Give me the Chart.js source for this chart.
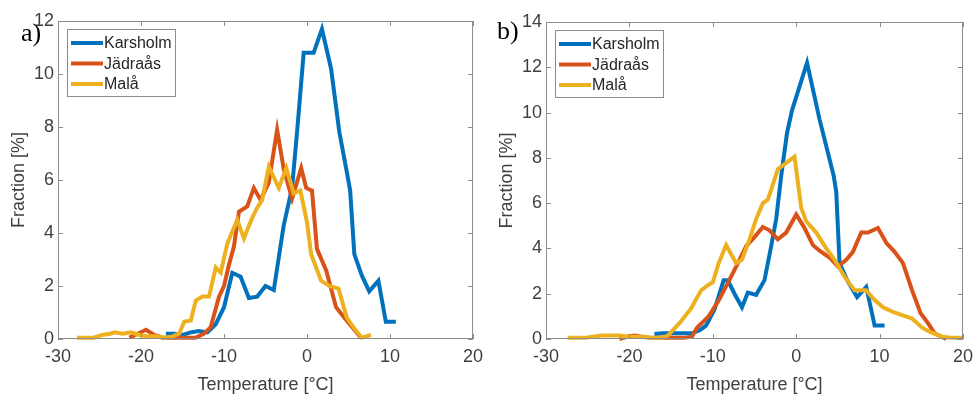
<!DOCTYPE html>
<html>
<head>
<meta charset="utf-8">
<script src="https://cdn.jsdelivr.net/npm/chart.js@4.4.1/dist/chart.umd.min.js"></script>
<style>
  body { margin: 0; background: #fff; }
  #wrap { position: relative; width: 973px; height: 394px; }
  #wrap canvas { position: absolute; top: 0; }
</style>
</head>
<body>
<div id="wrap">
  <canvas id="panelA" width="486" height="394" style="left:0"></canvas>
  <canvas id="panelB" width="487" height="394" style="left:486px"></canvas>
</div>
<script>
// station names
const stations = ["Karsholm", "Jädraås", "Malå"];
const colors = ["#0072BD", "#D95319", "#EDB120"];

// tick labels
const xTicks = [-30, -20, -10, 0, 10, 20];
const yTicksA = [0, 2, 4, 6, 8, 10, 12];
const yTicksB = [0, 2, 4, 6, 8, 10, 12, 14];

// panel a) - temperature [C] and fraction [%]
const karsholmA_T = [-17, -16, -15, -14, -13, -12, -11, -10, -9, -8, -7, -6, -5, -4, -2.8, -1.8, -1.2, -0.4, 0.8, 1.8, 2.9, 3.9, 4.8, 5.2, 5.7, 6.6, 7.5, 8.6, 9.5, 10.7];
const karsholmA_F = [0.2, 0.2, 0.15, 0.25, 0.3, 0.25, 0.55, 1.2, 2.5, 2.35, 1.55, 1.6, 2.0, 1.85, 4.3, 5.7, 7.8, 10.8, 10.8, 11.7, 10.2, 7.8, 6.3, 5.6, 3.2, 2.4, 1.8, 2.2, 0.65, 0.65];

const jadraasA_T = [-21.4, -20.4, -19.4, -18.4, -17.4, -16.4, -15.4, -14.4, -13.4, -12.4, -11.6, -10.6, -10, -9.4, -8.8, -8.2, -7.2, -6.4, -5.6, -4.6, -3.6, -2.8, -1.8, -0.7, -0.1, 0.6, 1.2, 2.3, 3.5, 4.5, 5.7, 6.5];
const jadraasA_F = [0.05, 0.2, 0.35, 0.15, 0.05, 0.05, 0.05, 0.05, 0.05, 0.2, 0.45, 1.6, 2.0, 2.8, 3.5, 4.8, 5.0, 5.7, 5.25, 5.9, 7.9, 6.4, 5.3, 6.45, 5.7, 5.6, 3.4, 2.6, 1.2, 0.8, 0.35, 0.05];

const malaA_T = [-27.7, -26.7, -25.7, -24.7, -23.7, -23.2, -22.2, -21.2, -20.2, -19.2, -18.2, -17.2, -16.2, -15.4, -14.8, -14.0, -13.4, -12.6, -11.8, -11.0, -10.4, -9.6, -8.4, -7.6, -6.7, -6.1, -5.4, -4.6, -3.4, -2.5, -1.6, -0.8, 0, 0.5, 1.7, 2.7, 3.8, 4.8, 5.7, 6.6, 7.7];
const malaA_F = [0.05, 0.05, 0.05, 0.15, 0.2, 0.25, 0.2, 0.25, 0.15, 0.1, 0.1, 0.05, 0.1, 0.2, 0.65, 0.7, 1.45, 1.6, 1.6, 2.7, 2.5, 3.6, 4.5, 3.8, 4.5, 4.9, 5.25, 6.5, 5.7, 6.45, 5.5, 5.6, 4.4, 3.2, 2.2, 2.0, 1.9, 0.8, 0.4, 0.05, 0.15];

// panel b)
const karsholmB_T = [-17, -16, -15, -14, -13, -12.5, -11.5, -10.8, -9.8, -8.7, -8.2, -7.4, -6.5, -5.8, -4.8, -3.8, -3.0, -2.4, -1.8, -1.1, -0.5, 1.3, 2.8, 4.5, 4.8, 5.2, 6.1, 7.3, 8.4, 9.4, 10.6];
const karsholmB_F = [0.22, 0.25, 0.25, 0.25, 0.25, 0.25, 0.4, 0.6, 1.3, 2.6, 2.6, 2.0, 1.4, 2.05, 1.95, 2.6, 4.1, 5.3, 7.2, 9.1, 10.1, 12.2, 9.7, 7.2, 6.5, 3.35, 2.6, 1.85, 2.3, 0.6, 0.6];

const jadraasB_T = [-21.2, -20.3, -19.4, -18.5, -17.5, -16.5, -15.5, -14.5, -13.5, -12.5, -11.9, -10.5, -9.3, -8.3, -7.2, -6.0, -5.0, -4.0, -3.2, -2.2, -1.2, 0, 1.0, 2.0, 2.8, 4.0, 5.0, 6.0, 6.8, 7.8, 8.6, 9.8, 10.8, 11.8, 12.8, 13.9, 14.9, 15.8, 16.6, 18.0];
const jadraasB_F = [0, 0.1, 0.15, 0.1, 0.05, 0.05, 0.05, 0.05, 0.05, 0.1, 0.5, 1.0, 1.7, 2.4, 3.2, 4.1, 4.5, 4.95, 4.8, 4.4, 4.7, 5.5, 4.9, 4.15, 3.9, 3.6, 3.2, 3.5, 3.85, 4.7, 4.7, 4.9, 4.25, 3.85, 3.35, 2.15, 1.15, 0.7, 0.25, 0];

const malaB_T = [-27.4, -26.4, -25.4, -24.4, -23.3, -22.3, -21.2, -20.2, -19.2, -18.2, -17.2, -16.2, -15.4, -14.0, -12.6, -11.4, -10.5, -10.0, -9.3, -8.4, -7.2, -6.5, -5.6, -4.8, -4.0, -3.4, -2.2, -0.2, 0.6, 1.2, 2.4, 3.6, 4.6, 5.8, 7.0, 8.4, 9.2, 10.4, 11.6, 12.7, 13.9, 15.1, 16.1, 17.5, 18.8, 19.9];
const malaB_F = [0.05, 0.05, 0.05, 0.1, 0.15, 0.15, 0.15, 0.1, 0.1, 0.1, 0.05, 0.05, 0.15, 0.7, 1.35, 2.15, 2.4, 2.5, 3.35, 4.15, 3.35, 3.5, 4.4, 5.3, 6.0, 6.15, 7.5, 8.05, 5.8, 5.2, 4.7, 4.0, 3.5, 2.75, 2.15, 2.15, 1.8, 1.4, 1.2, 1.05, 0.9, 0.5, 0.3, 0.1, 0.05, 0.05];

const FONT = "'Liberation Sans', Arial, sans-serif";

function toPoints(xs, ys) {
  return xs.map((x, i) => ({ x: x, y: ys[i] }));
}

// box, inward ticks, legend and panel letter (MATLAB look)
const frame = {
  id: "frame",
  afterDraw(chart, args, opts) {
    const { ctx, chartArea: a, scales } = chart;
    ctx.save();
    ctx.strokeStyle = "#8c8c8c";
    ctx.lineWidth = 1;
    ctx.strokeRect(a.left + 0.5, a.top + 0.5, a.width - 1, a.height - 1);

    ctx.beginPath();
    scales.x.ticks.forEach((t) => {
      const px = Math.round(scales.x.getPixelForValue(t.value)) + 0.5;
      ctx.moveTo(px, a.bottom); ctx.lineTo(px, a.bottom - 5);
      ctx.moveTo(px, a.top); ctx.lineTo(px, a.top + 5);
    });
    scales.y.ticks.forEach((t) => {
      const py = Math.round(scales.y.getPixelForValue(t.value)) + 0.5;
      ctx.moveTo(a.left, py); ctx.lineTo(a.left + 5, py);
      ctx.moveTo(a.right, py); ctx.lineTo(a.right - 5, py);
    });
    ctx.stroke();

    // legend
    const lx = a.left + 9, ly = a.top + 8;
    ctx.fillStyle = "#fff";
    ctx.fillRect(lx, ly, 108, 67);
    ctx.strokeStyle = "#8c8c8c";
    ctx.lineWidth = 1;
    ctx.strokeRect(lx + 0.5, ly + 0.5, 108, 67);
    ctx.font = "16px " + FONT;
    ctx.textBaseline = "middle";
    ctx.textAlign = "left";
    stations.forEach((name, i) => {
      const yy = ly + 14 + i * 20.5;
      ctx.strokeStyle = colors[i];
      ctx.lineWidth = 4;
      ctx.beginPath();
      ctx.moveTo(lx + 4, yy); ctx.lineTo(lx + 36, yy);
      ctx.stroke();
      ctx.fillStyle = "#262626";
      ctx.fillText(name, lx + 37, yy + 1);
    });

    // panel letter
    ctx.font = "26px 'Liberation Serif', 'Times New Roman', serif";
    ctx.fillStyle = "#000";
    ctx.textBaseline = "alphabetic";
    ctx.fillText(opts.letter, opts.lx, opts.ly);
    ctx.restore();
  }
};

function makeChart(id, sets, yMax, yTicks, pad, letter) {
  const ds = sets.map((s, i) => ({
    label: stations[i],
    data: toPoints(s[0], s[1]),
    borderColor: colors[i],
    backgroundColor: colors[i],
    borderWidth: 4,
    pointRadius: 0,
    tension: 0,
    clip: false,
    order: 3 - i
  }));

  return new Chart(document.getElementById(id), {
    type: "line",
    data: { datasets: ds },
    options: {
      responsive: false,
      animation: false,
      devicePixelRatio: 1,
      layout: { autoPadding: false, padding: { top: pad.top, right: pad.right, left: 0, bottom: 0 } },
      plugins: {
        legend: { display: false },
        tooltip: { enabled: false },
        frame: letter
      },
      scales: {
        x: {
          type: "linear",
          min: -30,
          max: 20,
          afterBuildTicks: (s) => { s.ticks = xTicks.map((v) => ({ value: v })); },
          afterFit: (s) => { s.height = 55; s.paddingLeft = 0; s.paddingRight = 0; },
          grid: { display: false, drawTicks: false },
          border: { display: false },
          ticks: { color: "#404040", font: { family: FONT, size: 18 }, padding: 7, maxRotation: 0 },
          title: { display: true, text: "Temperature [°C]", color: "#404040", font: { family: FONT, size: 18 }, padding: { top: 0, bottom: -2 } }
        },
        y: {
          min: 0,
          max: yMax,
          afterBuildTicks: (s) => { s.ticks = yTicks.map((v) => ({ value: v })); },
          afterFit: (s) => { s.width = pad.left; s.paddingTop = 0; s.paddingBottom = 0; },
          grid: { display: false, drawTicks: false },
          border: { display: false },
          ticks: { color: "#404040", font: { family: FONT, size: 18 }, padding: 4 },
          title: { display: true, text: "Fraction [%]", color: "#404040", font: { family: FONT, size: 18 }, padding: { top: pad.title, bottom: 0 } }
        }
      }
    },
    plugins: [frame]
  });
}

makeChart("panelA",
  [[karsholmA_T, karsholmA_F], [jadraasA_T, jadraasA_F], [malaA_T, malaA_F]],
  12, yTicksA, { top: 21, right: 13, left: 58, title: 8 },
  { letter: "a)", lx: 21, ly: 41 });

makeChart("panelB",
  [[karsholmB_T, karsholmB_F], [jadraasB_T, jadraasB_F], [malaB_T, malaB_F]],
  14, yTicksB, { top: 22, right: 10, left: 60, title: 10 },
  { letter: "b)", lx: 11, ly: 39 });
</script>
</body>
</html>
